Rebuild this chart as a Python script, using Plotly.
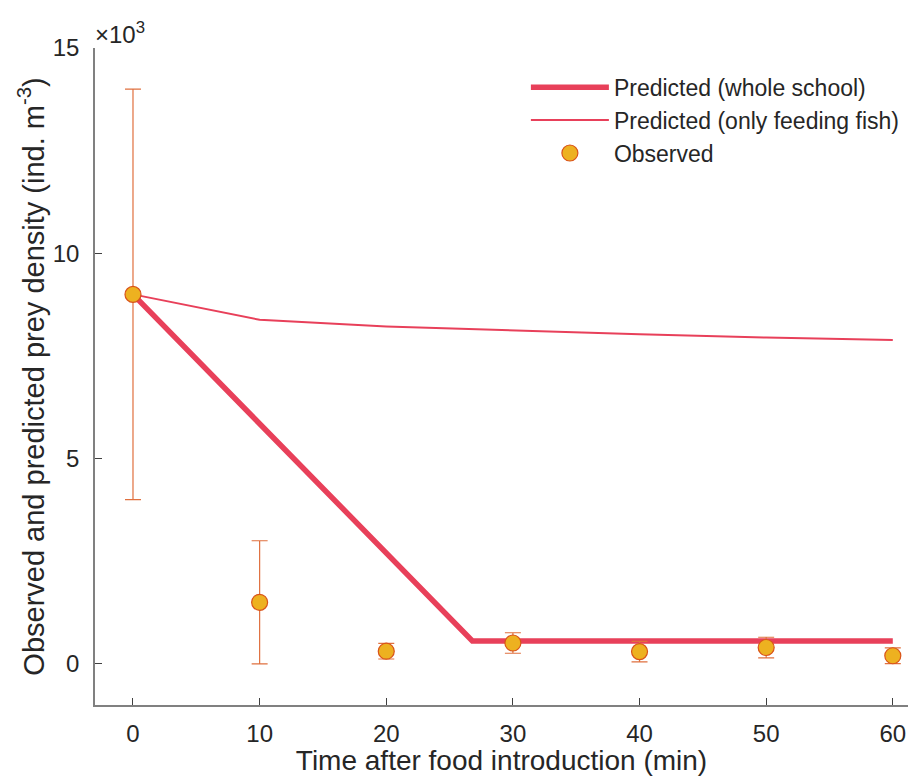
import plotly.graph_objects as go

# Data (values in thousands of ind. m^-3)
t_whole = [0, 10, 20, 26.8, 30, 40, 50, 60]
pred_whole = [9.0, 5.85, 2.7, 0.56, 0.56, 0.56, 0.56, 0.56]

t_feed = [0, 10, 20, 30, 40, 50, 60]
pred_feed = [9.0, 8.38, 8.22, 8.12, 8.03, 7.95, 7.89]

t_obs = [0, 10, 20, 30, 40, 50, 60]
obs = [9.0, 1.5, 0.31, 0.51, 0.30, 0.40, 0.20]
obs_err = [5.0, 1.5, 0.19, 0.25, 0.25, 0.25, 0.19]

x_ticks = [0, 10, 20, 30, 40, 50, 60]
y_ticks = [0, 5, 10, 15]

line_color = "#E8405A"
font_family = "Liberation Sans, Arial, sans-serif"
text_color = "#262626"

fig = go.Figure()
fig.add_trace(go.Scatter(
    x=t_whole, y=pred_whole, mode="lines", name="Predicted (whole school)",
    line=dict(color=line_color, width=5.5)))
fig.add_trace(go.Scatter(
    x=t_feed, y=pred_feed, mode="lines", name="Predicted (only feeding fish)",
    line=dict(color=line_color, width=2)))
fig.add_trace(go.Scatter(
    x=t_obs, y=obs, mode="markers", name="Observed",
    marker=dict(size=16, color="#EDB120", line=dict(color="#D95319", width=1.2)),
    error_y=dict(type="data", array=obs_err, visible=True, color="#E0703F",
                 thickness=1.2, width=8)))

fig.update_layout(
    width=900, height=768,
    margin=dict(l=87, r=0, t=40, b=71, autoexpand=False),
    plot_bgcolor="white", paper_bgcolor="white",
    font=dict(family=font_family, size=24, color=text_color),
    showlegend=True,
    legend=dict(x=0.53, y=0.973, xanchor="left", yanchor="top",
                bgcolor="rgba(0,0,0,0)", font=dict(size=23),
                tracegroupgap=0, itemwidth=78),
    xaxis=dict(range=[-3, 61.2], tickvals=x_ticks, ticks="inside", ticklen=7,
               tickcolor="#404040", showline=True, linecolor="#808080", linewidth=1.5,
               showgrid=False, zeroline=False, automargin=False,
               ticklabeloverflow="allow", ticklabelstandoff=6,
               title=dict(text="Time after food introduction (min)", font=dict(size=28), standoff=4),
               tickfont=dict(size=24)),
    yaxis=dict(range=[-1, 15], tickvals=y_ticks, ticks="inside", ticklen=7,
               tickcolor="#404040", showline=True, linecolor="#808080", linewidth=1.5,
               showgrid=False, zeroline=False, automargin=False,
               ticklabeloverflow="allow", ticklabelstandoff=9,
               title=dict(text="Observed and predicted prey density (ind. m<sup>-3</sup>)",
                          font=dict(size=29), standoff=0),
               tickfont=dict(size=24)),
)
fig.add_annotation(x=0, y=1.0, xref="paper", yref="paper", xanchor="left", yanchor="bottom",
                   text="×10<sup>3</sup>", showarrow=False, font=dict(size=24, color=text_color),
                   xshift=-2, yshift=-2)

fig.write_html("out.html")
